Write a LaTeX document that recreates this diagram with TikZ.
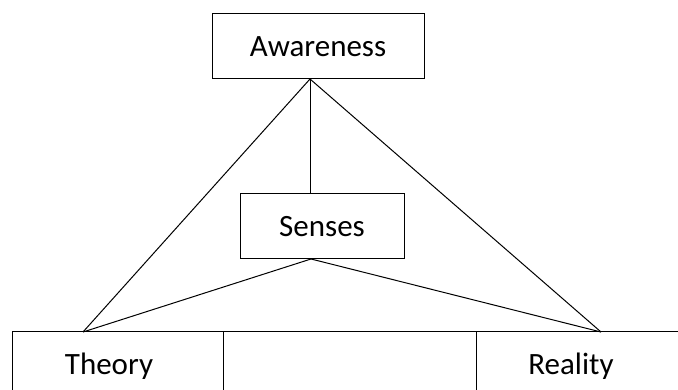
\documentclass[tikz,border=0pt]{standalone}
\usepackage{fontspec}
\setmainfont{Carlito}
\usetikzlibrary{positioning}

\begin{document}
\begin{tikzpicture}[x=1pt,y=1pt,
  box/.style={draw,line width=1pt,minimum height=65pt,inner sep=0pt,outer sep=0pt},
  word/.style={font=\fontsize{31}{37}\selectfont},
  link/.style={line width=1pt}]

  \useasboundingbox (0,0) rectangle (678,390);
  \clip (0,0) rectangle (678,390);

  \node[box,word,minimum width=212pt] (aw) at (318,343.5) {Awareness};
  \node[box,word,minimum width=164pt] (se) at (322,163.5) {Senses};

  \node[box,minimum width=211pt] (th) at (117.5,25.5) {};
  \node[box,minimum width=253pt] (mi) [right=0pt of th] {};
  \node[box,minimum width=210pt] (re) [right=0pt of mi] {};

  \node[word,anchor=base] (p0) at (109,15) {Theory};
  \node[word,anchor=base] (p1) at (571,15) {Reality};

  \coordinate (a0) at (310,311);
  \coordinate (s0) at (310,196);
  \coordinate (s1) at (311,131);
  \coordinate (t0) at (83,58);
  \coordinate (r0) at (601,58);

  \draw[link] (a0)--(s0);
  \draw[link] (a0)--(t0);
  \draw[link] (a0)--(r0);
  \draw[link] (s1)--(t0);
  \draw[link] (s1)--(r0);

\end{tikzpicture}
\end{document}
